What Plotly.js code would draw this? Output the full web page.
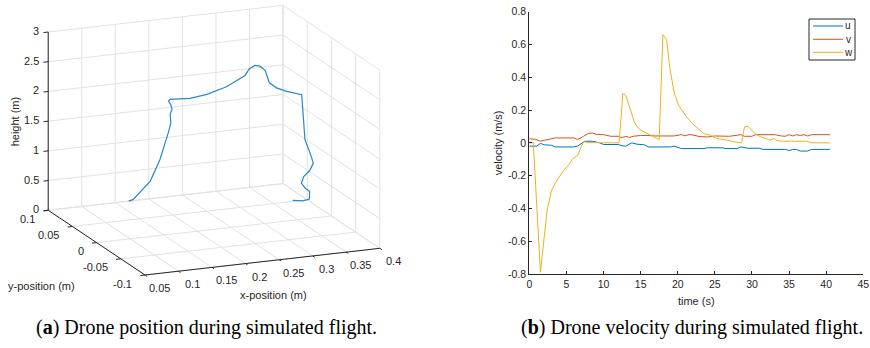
<!DOCTYPE html>
<html>
<head>
<meta charset="utf-8">
<script src="https://cdn.plot.ly/plotly-3.0.1.min.js"></script>
<style>
  html, body { margin: 0; padding: 0; background: #ffffff; }
  #chart { width: 870px; height: 348px; }
</style>
</head>
<body>
<div id="chart"></div>
<script>
// ---- (a) drone position (3D trajectory) ----
const posX = [0.170,0.176,0.200,0.213,0.224,0.227,0.226,0.228,0.226,0.222,0.2245,0.252,0.275,0.302,0.3275,0.3325,0.340,0.347,0.354,0.3565,0.363,0.373,0.3896,0.391,0.393,0.397,0.399,0.395,0.389,0.387,0.391,0.395,0.393,0.385,0.371];
const posY = [0.100,0.099,0.097,0.095,0.093,0.092,0.092,0.091,0.091,0.090,0.090,0.087,0.084,0.081,0.078,0.076,0.075,0.074,0.073,0.068,0.062,0.055,0.047,0.046,0.045,0.040,0.036,0.038,0.042,0.044,0.042,0.038,0.036,0.038,0.040];
const posZ = [0.000,0.027,0.315,0.674,1.121,1.291,1.432,1.520,1.606,1.673,1.698,1.695,1.749,1.859,2.033,2.150,2.201,2.186,2.110,1.927,1.866,1.833,1.799,1.437,1.047,0.845,0.695,0.564,0.450,0.330,0.252,0.211,0.097,0.067,0.080];

const xRange3 = [0.05, 0.4];
const yRange3 = [-0.1, 0.1];
const zRange3 = [0, 3];
const xTickVals = [0.05,0.1,0.15,0.2,0.25,0.3,0.35,0.4];
const xTickText = ['0.05','0.1','0.15','0.2','0.25','0.3','0.35','0.4'];
const yTickVals = [-0.1,-0.05,0,0.05,0.1];
const yTickText = ['-0.1','-0.05','0','0.05','0.1'];
const zTickVals = [0,0.5,1,1.5,2,2.5,3];
const zTickText = ['0','0.5','1','1.5','2','2.5','3'];

// ---- (b) drone velocity ----
const wTime = [0,0.54,1.5,2.4,3.0,3.7,4.6,5.3,5.9,6.5,7.3,7.9,12.1,12.6,13.0,13.6,14.2,14.9,15.8,16.7,17.5,18.0,18.5,18.9,19.5,20.1,21.0,21.9,22.8,23.6,24.3,25.2,26.6,27.5,28.6,29.0,29.5,30.4,31.1,31.7,32.4,32.9,33.5,34.2,37.4,38.0,40.5];
const wVel  = [0,0,-0.79,-0.41,-0.29,-0.23,-0.17,-0.135,-0.095,-0.077,0.007,0.002,0.0,0.30,0.29,0.20,0.12,0.08,0.06,0.04,0.02,0.66,0.63,0.465,0.31,0.23,0.17,0.12,0.088,0.054,0.048,0.027,0.017,0.007,0.0,0.10,0.10,0.058,0.038,0.027,0.017,0.025,0.013,0.01,0.01,0.0,0.0];

const vTime = [0,0.8,1.5,2.5,3.5,6,6.5,7.3,8,8.5,9,10,11,12,12.5,13,13.5,14,15,16,17,19.5,20,20.5,21,21.5,22,23,24,25,27,28,28.5,29,30,30.5,32,33,34,34.5,35,35.5,36,36.5,37,37.5,38,40.5];
const vVel  = [0.025,0.022,0.01,0.02,0.03,0.03,0.02,0.04,0.058,0.06,0.052,0.05,0.04,0.04,0.032,0.04,0.033,0.04,0.045,0.045,0.042,0.042,0.045,0.05,0.043,0.05,0.048,0.038,0.036,0.042,0.04,0.045,0.05,0.04,0.04,0.05,0.05,0.05,0.042,0.04,0.05,0.042,0.05,0.045,0.05,0.042,0.05,0.05];

const uTime = [0,1,1.5,2,3,3.5,6,6.5,7.5,8.5,9.5,10,12,12.5,13,13.8,14.5,15.5,16,19,19.5,20.5,23.5,24,26,26.5,28,28.5,29.5,31,31.5,34.5,35,35.5,36,36.5,37.5,38,40.5];
const uVel  = [-0.02,-0.02,-0.003,-0.012,-0.015,-0.025,-0.025,-0.02,0.01,0.01,0.0,-0.01,-0.01,-0.018,-0.02,0.0,-0.008,-0.012,-0.025,-0.025,-0.02,-0.035,-0.035,-0.03,-0.03,-0.035,-0.035,-0.025,-0.033,-0.033,-0.04,-0.04,-0.047,-0.04,-0.04,-0.05,-0.05,-0.04,-0.04];

const vTickVals = [-0.8,-0.6,-0.4,-0.2,0,0.2,0.4,0.6,0.8];
const vTickText = ['-0.8','-0.6','-0.4','-0.2','0','0.2','0.4','0.6','0.8'];
const tTickVals = [0,5,10,15,20,25,30,35,40,45];

const seriesNames = ['u','v','w'];
const seriesColors = ['#0072BD','#D95319','#EDB120'];

// ---- styling / view settings ----
const FONT = 'Liberation Sans, Arial, Helvetica, sans-serif';
const SERIF = 'Liberation Serif, Times New Roman, serif';
const TXT = '#262626';
const GRID = '#e2e2e2';
const W = 870, H = 348;

// MATLAB-like orthographic 3D view, drawn on a 2D projection axis
const VIEW = {az: 22.4 * Math.PI / 180, el: 16 * Math.PI / 180, box: [1, 1, 0.73],
              pxPerUnit: 254, originPx: [145, 275], panelPx: [0, 435]};

function proj(x, y, z) {
  const X = (x - xRange3[0]) / (xRange3[1] - xRange3[0]) * VIEW.box[0];
  const Y = (y - yRange3[0]) / (yRange3[1] - yRange3[0]) * VIEW.box[1];
  const Z = (z - zRange3[0]) / (zRange3[1] - zRange3[0]) * VIEW.box[2];
  const ca = Math.cos(VIEW.az), sa = Math.sin(VIEW.az);
  const h = ca * X - sa * Y;
  const v = Math.sin(VIEW.el) * (sa * X + ca * Y) + Math.cos(VIEW.el) * Z;
  return [h, v];
}
const pxU = 1 / VIEW.pxPerUnit; // data units per pixel in projection axes
const hAxisRange = [(VIEW.panelPx[0] - VIEW.originPx[0]) * pxU, (VIEW.panelPx[1] - VIEW.originPx[0]) * pxU];
const vAxisRange = [(VIEW.originPx[1] - H) * pxU, VIEW.originPx[1] * pxU];

function segTrace(segs, color, width) {
  const xs = [], ys = [];
  segs.forEach(s => {
    const a = proj(s[0], s[1], s[2]), b = proj(s[3], s[4], s[5]);
    xs.push(a[0], b[0], null); ys.push(a[1], b[1], null);
  });
  return {type: 'scatter', mode: 'lines', x: xs, y: ys, xaxis: 'x2', yaxis: 'y2',
          line: {color: color, width: width}, showlegend: false, hoverinfo: 'skip', cliponaxis: false};
}

const [x0, x1] = xRange3, [y0, y1] = yRange3, [z0, z1] = zRange3;
const gridSegs = [];
xTickVals.forEach(t => { gridSegs.push([t, y0, z0, t, y1, z0]); gridSegs.push([t, y1, z0, t, y1, z1]); });
yTickVals.forEach(t => { gridSegs.push([x0, t, z0, x1, t, z0]); gridSegs.push([x1, t, z0, x1, t, z1]); });
zTickVals.forEach(t => { gridSegs.push([x0, y1, t, x1, y1, t]); gridSegs.push([x1, y0, t, x1, y1, t]); });

const axisSegs = [
  [x0, y1, z0, x0, y1, z1],   // z axis
  [x0, y1, z0, x0, y0, z0],   // y axis
  [x0, y0, z0, x1, y0, z0]    // x axis
];
const tl = 0.02; // tick length (fraction of axis span)
const tickSegs = [];
zTickVals.forEach(t => tickSegs.push([x0, y1, t, x0 - tl * (x1 - x0), y1, t]));
yTickVals.forEach(t => tickSegs.push([x0, t, z0, x0 - tl * (x1 - x0), t, z0]));
xTickVals.forEach(t => tickSegs.push([t, y0, z0, t, y0 - tl * (y1 - y0), z0]));

const pp = proj(0, 0, 0);
const traj = posX.map((x, i) => proj(x, posY[i], posZ[i]));

const traces = [
  segTrace(gridSegs, GRID, 1),
  segTrace(axisSegs, TXT, 1),
  segTrace(tickSegs, TXT, 1),
  {type: 'scatter', mode: 'lines', x: traj.map(p => p[0]), y: traj.map(p => p[1]),
   xaxis: 'x2', yaxis: 'y2', line: {color: '#2a86cf', width: 1.2}, showlegend: false, hoverinfo: 'skip'},
  {type: 'scatter', mode: 'lines', x: uTime, y: uVel, name: seriesNames[0],
   line: {color: seriesColors[0], width: 1}, xaxis: 'x', yaxis: 'y', showlegend: false},
  {type: 'scatter', mode: 'lines', x: vTime, y: vVel, name: seriesNames[1],
   line: {color: seriesColors[1], width: 1}, xaxis: 'x', yaxis: 'y', showlegend: false},
  {type: 'scatter', mode: 'lines', x: wTime, y: wVel, name: seriesNames[2],
   line: {color: seriesColors[2], width: 1}, xaxis: 'x', yaxis: 'y', showlegend: false}
];

// ---- annotations: 3D tick labels and titles ----
const ann = [];
const f3 = {family: FONT, size: 11, color: TXT};
zTickVals.forEach((t, i) => {
  const p = proj(x0, y1, t);
  ann.push({text: zTickText[i], x: p[0], y: p[1], xref: 'x2', yref: 'y2', xanchor: 'right', yanchor: 'middle',
            xshift: -7, yshift: 1, showarrow: false, font: f3});
});
yTickVals.forEach((t, i) => {
  const p = proj(x0, t, z0);
  ann.push({text: yTickText[i], x: p[0], y: p[1], xref: 'x2', yref: 'y2', xanchor: 'right', yanchor: 'middle',
            xshift: -11, yshift: -8.5, showarrow: false, font: f3});
});
xTickVals.forEach((t, i) => {
  const p = proj(t, y0, z0);
  ann.push({text: xTickText[i], x: p[0], y: p[1], xref: 'x2', yref: 'y2', xanchor: 'center', yanchor: 'middle',
            xshift: 14, yshift: -13, showarrow: false, font: f3});
});
{
  const pz = proj(x0, y1, (z0 + z1) / 2);
  ann.push({text: 'height (m)', x: pz[0], y: pz[1], xref: 'x2', yref: 'y2', textangle: -90,
            xanchor: 'center', yanchor: 'middle', xshift: -33, yshift: 0, showarrow: false, font: f3});
  const py = proj(x0, (y0 + y1) / 2, z0);
  ann.push({text: 'y-position (m)', x: py[0], y: py[1], xref: 'x2', yref: 'y2',
            xanchor: 'center', yanchor: 'middle', xshift: -55, yshift: -43, showarrow: false, font: f3});
  const px = proj((x0 + x1) / 2, y0, z0);
  ann.push({text: 'x-position (m)', x: px[0], y: px[1], xref: 'x2', yref: 'y2',
            xanchor: 'center', yanchor: 'middle', xshift: 11, yshift: -33, showarrow: false, font: f3});
}

// ---- legend for (b), drawn from the series arrays ----
const LEG = {left: 809, top: 19, right: 855, bottom: 60, lineX: [813, 843], textX: 848, rowY: [26, 39.3, 52.3]};
const toPX = px => px / W, toPY = py => 1 - py / H;
const shapes = [{type: 'rect', xref: 'paper', yref: 'paper',
  x0: toPX(LEG.left), x1: toPX(LEG.right), y0: toPY(LEG.bottom), y1: toPY(LEG.top),
  line: {color: TXT, width: 1}, fillcolor: '#ffffff', layer: 'above'}];
seriesNames.forEach((n, i) => {
  shapes.push({type: 'line', xref: 'paper', yref: 'paper',
    x0: toPX(LEG.lineX[0]), x1: toPX(LEG.lineX[1]), y0: toPY(LEG.rowY[i]), y1: toPY(LEG.rowY[i]),
    line: {color: seriesColors[i], width: 1}, layer: 'above'});
  ann.push({text: n, xref: 'paper', yref: 'paper', x: toPX(LEG.textX), y: toPY(LEG.rowY[i]),
    xanchor: 'center', yanchor: 'middle', showarrow: false, font: {family: FONT, size: 10, color: TXT}});
});

// ---- captions ----
ann.push({text: '(<b>a</b>) Drone position during simulated flight.', xref: 'paper', yref: 'paper',
  x: 206.5 / W, y: 1 - 327 / H, xanchor: 'center', yanchor: 'middle', showarrow: false,
  font: {family: SERIF, size: 20, color: '#000000'}});
ann.push({text: '(<b>b</b>) Drone velocity during simulated flight.', xref: 'paper', yref: 'paper',
  x: 692 / W, y: 1 - 327 / H, xanchor: 'center', yanchor: 'middle', showarrow: false,
  font: {family: SERIF, size: 20, color: '#000000'}});

const layout = {
  width: W, height: H,
  margin: {l: 0, r: 0, t: 0, b: 0},
  paper_bgcolor: '#ffffff', plot_bgcolor: '#ffffff',
  font: {family: FONT, size: 11, color: TXT},
  showlegend: false,
  xaxis2: {domain: [VIEW.panelPx[0] / W, VIEW.panelPx[1] / W], range: hAxisRange, visible: false, fixedrange: true, anchor: 'y2'},
  yaxis2: {domain: [0, 1], range: vAxisRange, visible: false, fixedrange: true, anchor: 'x2'},
  xaxis: {
    domain: [529.3 / W, 863.3 / W], anchor: 'y',
    range: [0, 45], tickvals: tTickVals,
    showgrid: false, zeroline: false,
    showline: true, linecolor: TXT, linewidth: 1,
    ticks: 'inside', ticklen: 3, tickcolor: TXT,
    tickfont: {family: FONT, size: 10.5, color: TXT},
    title: {text: 'time (s)', font: {family: FONT, size: 11, color: TXT}, standoff: 8}
  },
  yaxis: {
    domain: [1 - 274 / H, 1 - 11.7 / H], anchor: 'x',
    range: [-0.8, 0.8], tickvals: vTickVals, ticktext: vTickText,
    showgrid: false, zeroline: false,
    showline: true, linecolor: TXT, linewidth: 1,
    ticks: 'inside', ticklen: 3, tickcolor: TXT,
    tickfont: {family: FONT, size: 10.5, color: TXT},
    title: {text: 'velocity (m/s)', font: {family: FONT, size: 11, color: TXT}, standoff: 3}
  },
  shapes: shapes,
  annotations: ann
};

Plotly.newPlot('chart', traces, layout, {displayModeBar: false, staticPlot: true});
</script>
</body>
</html>
